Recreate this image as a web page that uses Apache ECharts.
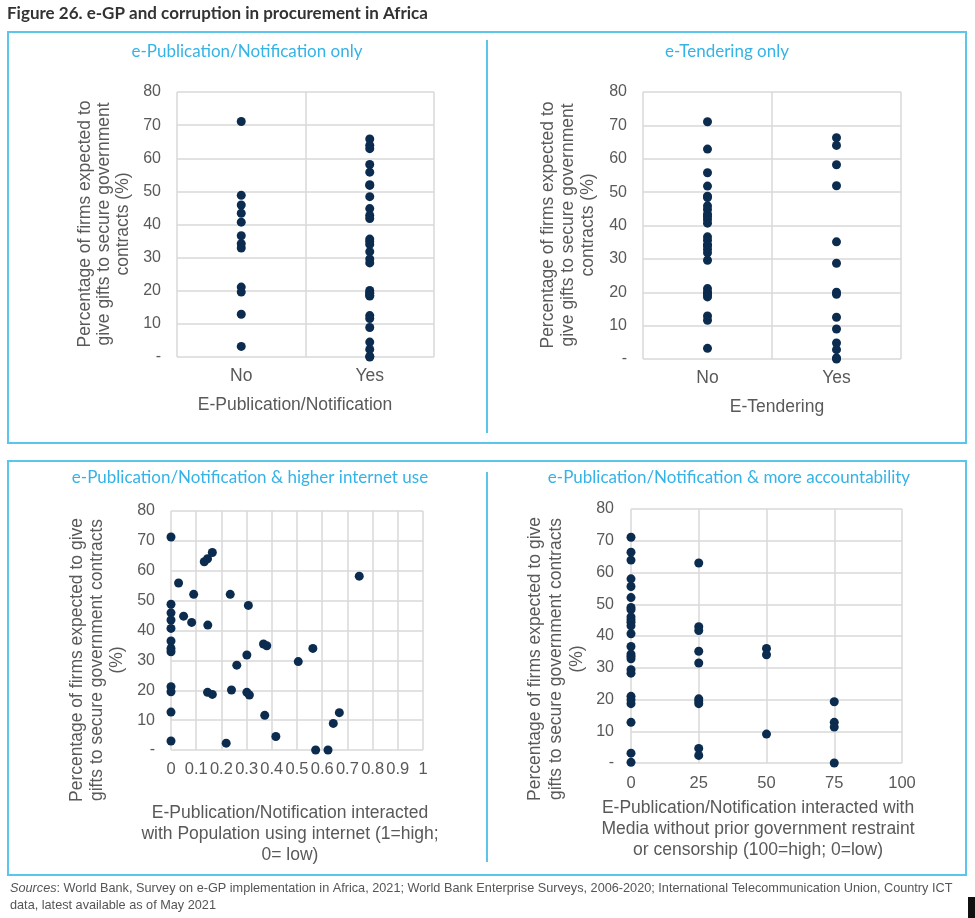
<!DOCTYPE html>
<html>
<head>
<meta charset="utf-8">
<script src="https://cdn.jsdelivr.net/npm/echarts@6/dist/echarts.min.js"></script>
<style>
  html, body { margin: 0; padding: 0; background: #ffffff; }
  #chart { width: 975px; height: 918px; }
</style>
</head>
<body>
<div id="chart"></div>
<script>
// ---------- data ----------
const yesNoCategories = ['No', 'Yes'];
const yTicks = [0, 10, 20, 30, 40, 50, 60, 70, 80];

// Panel 1: e-Publication/Notification (No / Yes)
const pubNo = [71.1, 48.8, 45.9, 43.4, 40.7, 36.6, 34.2, 32.9, 21.1, 19.6, 12.9, 3.2];
const pubYes = [65.8, 63.9, 62.9, 58.1, 55.8, 52.0, 51.8, 48.4, 44.8, 42.7, 41.8, 35.6, 34.9, 34.0, 31.8, 29.6, 28.4, 20.1, 19.3, 19.3, 18.6, 18.4, 12.5, 11.6, 8.9, 4.5, 2.3, 0.2, 0];

// Panel 2: e-Tendering (No / Yes)
const tenderNo = [71.1, 62.9, 55.8, 51.8, 48.8, 48.4, 45.9, 44.8, 43.4, 42.7, 41.8, 40.7, 36.6, 35.6, 34.2, 34.0, 32.9, 31.8, 29.6, 21.1, 20.1, 19.6, 19.3, 18.6, 12.9, 11.6, 3.2];
const tenderYes = [66.3, 64.0, 58.2, 51.9, 35.1, 28.7, 20.0, 19.4, 12.5, 9.0, 4.8, 2.8, 0.3, 0];

// Panel 3: interacted with population using internet
const internetX = [0, 0, 0, 0, 0, 0, 0, 0, 0, 0, 0, 0,
  0.030, 0.090, 0.235, 0.307, 0.132, 0.145, 0.164, 0.747, 0.050, 0.082, 0.146, 0.367, 0.380, 0.563,
  0.301, 0.261, 0.505, 0.145, 0.164, 0.240, 0.301, 0.311, 0.372, 0.668, 0.644, 0.416, 0.219, 0.574, 0.623];
const internetY = [71.3, 48.8, 45.9, 43.5, 40.7, 36.5, 34.0, 32.9, 21.2, 19.5, 12.7, 3.0,
  55.9, 52.1, 52.1, 48.4, 63.0, 64.0, 66.1, 58.2, 44.8, 42.7, 41.8, 35.5, 34.9, 34.0,
  31.8, 28.4, 29.6, 19.3, 18.6, 20.1, 19.3, 18.4, 11.6, 12.5, 8.9, 4.5, 2.3, 0, 0];
const internetTicks = [0, 0.1, 0.2, 0.3, 0.4, 0.5, 0.6, 0.7, 0.8, 0.9, 1];

// Panel 4: interacted with media freedom
const mediaX = [0, 0, 0, 0, 0, 0, 0, 0, 0, 0, 0, 0, 0, 0, 0, 0, 0, 0, 0, 0, 0, 0, 0, 0, 0,
  25, 25, 25, 25, 25, 25, 25, 25, 25, 25,
  50, 50, 50,
  75, 75, 75, 75];
const mediaY = [71.1, 66.4, 63.9, 58.0, 55.6, 52.1, 49.0, 48.3, 46.0, 45.1, 44.3, 43.2, 40.7, 36.7, 34.3, 33.6, 32.8, 29.4, 28.3, 21.0, 19.9, 18.7, 12.8, 3.1, 0.2,
  63.0, 42.9, 41.7, 35.2, 31.5, 20.2, 19.5, 18.7, 4.6, 2.4,
  36.1, 34.1, 9.1,
  19.3, 12.8, 11.3, 0];
const mediaTicks = [0, 25, 50, 75, 100];

// ---------- texts ----------
const figureTitle = 'Figure 26. e-GP and corruption in procurement in Africa';
const panelTitles = [
  'e-Publication/Notification only',
  'e-Tendering only',
  'e-Publication/Notification & higher internet use',
  'e-Publication/Notification & more accountability'
];
const yTitleTop = 'Percentage of firms expected to\ngive gifts to secure government\ncontracts (%)';
const yTitleBottom = 'Percentage of firms expected to give\ngifts to secure government contracts\n(%)';
const xTitles = [
  'E-Publication/Notification',
  'E-Tendering',
  'E-Publication/Notification interacted\nwith Population using internet (1=high;\n0= low)',
  'E-Publication/Notification interacted with\nMedia without prior government restraint\nor censorship (100=high; 0=low)'
];
const sourcesLine1 = '{i|Sources}: World Bank, Survey on e-GP implementation in Africa, 2021; World Bank Enterprise Surveys, 2006-2020; International Telecommunication Union, Country ICT';
const sourcesLine2 = 'data, latest available as of May 2021';

// ---------- styles ----------
const DOT = '#0b2c4f';
const GREY = '#595959';
const GRID = '#d9d9d9';
const BOX = '#5cc6ea';
const TITLE_BLUE = '#35b3e6';
const FONT = '"Liberation Sans", Arial, sans-serif';
const AXIS_TITLE_FONT = '17.5px "Liberation Sans", Arial, sans-serif';
const PANEL_FONT = '17px Lato, "Noto Sans", sans-serif';
const SRC_FONT = '12.7px "Liberation Sans", Arial, sans-serif';

const chart = echarts.init(document.getElementById('chart'), null, { renderer: 'canvas' });

function yAxisCfg(gridIndex, margin) {
  return {
    gridIndex: gridIndex, type: 'value', min: 0, max: 80, interval: 10,
    axisLine: { show: false }, axisTick: { show: false },
    splitLine: { show: true, lineStyle: { color: GRID, width: 1.5 } },
    axisLabel: {
      color: GREY, fontSize: 16, fontFamily: FONT, margin: margin,
      formatter: function (v) { return v === 0 ? '-' : String(v); }
    }
  };
}

function panelTitle(x, y, text) {
  return { type: 'text', x: x, y: y, style: { text: text, fill: TITLE_BLUE,
    font: PANEL_FONT, align: 'center', verticalAlign: 'middle' } };
}
function yTitle(x, y, text, lh) {
  return { type: 'text', x: x, y: y, rotation: Math.PI / 2, style: { text: text, fill: GREY,
    font: AXIS_TITLE_FONT, lineHeight: lh, align: 'center', verticalAlign: 'middle' } };
}
function xTitle(x, y, text, lh) {
  return { type: 'text', x: x, y: y, style: { text: text, fill: GREY,
    font: AXIS_TITLE_FONT, lineHeight: lh, align: 'center', verticalAlign: 'middle' } };
}

const option = {
  animation: false,
  backgroundColor: '#ffffff',
  grid: [
    { left: 177, top: 92, width: 257, height: 265 },
    { left: 643, top: 92, width: 258, height: 267 },
    { left: 171, top: 511, width: 252, height: 239 },
    { left: 631, top: 509, width: 271, height: 254 }
  ],
  xAxis: [
    {
      gridIndex: 0, type: 'category', data: yesNoCategories, boundaryGap: true,
      axisLine: { show: false }, axisTick: { show: false },
      splitLine: { show: true, lineStyle: { color: GRID, width: 1.5 } },
      axisLabel: { color: GREY, fontSize: 17.5, fontFamily: FONT, margin: 10 }
    },
    {
      gridIndex: 1, type: 'category', data: yesNoCategories, boundaryGap: true,
      axisLine: { show: false }, axisTick: { show: false },
      splitLine: { show: true, lineStyle: { color: GRID, width: 1.5 } },
      axisLabel: { color: GREY, fontSize: 17.5, fontFamily: FONT, margin: 10 }
    },
    {
      gridIndex: 2, type: 'value', min: internetTicks[0], max: internetTicks[internetTicks.length - 1], interval: 0.1,
      axisLine: { show: false }, axisTick: { show: false },
      splitLine: { show: true, lineStyle: { color: GRID, width: 1.5 } },
      axisLabel: {
        color: GREY, fontSize: 16.5, fontFamily: FONT, margin: 11, hideOverlap: false,
        formatter: function (v) { return String(Math.round(v * 10) / 10); }
      }
    },
    {
      gridIndex: 3, type: 'value', min: mediaTicks[0], max: mediaTicks[mediaTicks.length - 1], interval: 25,
      axisLine: { show: false }, axisTick: { show: false },
      splitLine: { show: true, lineStyle: { color: GRID, width: 1.5 } },
      axisLabel: { color: GREY, fontSize: 16.5, fontFamily: FONT, margin: 12 }
    }
  ],
  yAxis: [yAxisCfg(0, 16), yAxisCfg(1, 16), yAxisCfg(2, 16), yAxisCfg(3, 17)],
  series: [
    { type: 'scatter', xAxisIndex: 0, yAxisIndex: 0, symbolSize: 9, itemStyle: { color: DOT, opacity: 1 },
      data: pubNo.map(function (v) { return ['No', v]; }) },
    { type: 'scatter', xAxisIndex: 0, yAxisIndex: 0, symbolSize: 9, itemStyle: { color: DOT, opacity: 1 },
      data: pubYes.map(function (v) { return ['Yes', v]; }) },
    { type: 'scatter', xAxisIndex: 1, yAxisIndex: 1, symbolSize: 9, itemStyle: { color: DOT, opacity: 1 },
      data: tenderNo.map(function (v) { return ['No', v]; }) },
    { type: 'scatter', xAxisIndex: 1, yAxisIndex: 1, symbolSize: 9, itemStyle: { color: DOT, opacity: 1 },
      data: tenderYes.map(function (v) { return ['Yes', v]; }) },
    { type: 'scatter', xAxisIndex: 2, yAxisIndex: 2, symbolSize: 9, itemStyle: { color: DOT, opacity: 1 },
      data: internetX.map(function (x, i) { return [x, internetY[i]]; }) },
    { type: 'scatter', xAxisIndex: 3, yAxisIndex: 3, symbolSize: 9, itemStyle: { color: DOT, opacity: 1 },
      data: mediaX.map(function (x, i) { return [x, mediaY[i]]; }) }
  ],
  graphic: [
    // figure title
    { type: 'text', x: 7, y: 14, style: { text: figureTitle, fill: '#333333',
      font: 'bold 17px Lato, "Noto Sans", sans-serif', align: 'left', verticalAlign: 'middle' } },
    // boxes
    { type: 'rect', shape: { x: 8, y: 32, width: 958, height: 411 },
      style: { fill: 'none', stroke: BOX, lineWidth: 2 } },
    { type: 'line', shape: { x1: 487, y1: 40, x2: 487, y2: 433 }, style: { stroke: BOX, lineWidth: 2 } },
    { type: 'rect', shape: { x: 8, y: 461, width: 958, height: 414 },
      style: { fill: 'none', stroke: BOX, lineWidth: 2 } },
    { type: 'line', shape: { x1: 487, y1: 472, x2: 487, y2: 862 }, style: { stroke: BOX, lineWidth: 2 } },
    // panel titles
    panelTitle(247, 52, panelTitles[0]),
    panelTitle(727, 52, panelTitles[1]),
    panelTitle(250, 478, panelTitles[2]),
    panelTitle(729, 478, panelTitles[3]),
    // y-axis titles
    yTitle(104, 224, yTitleTop, 19),
    yTitle(568, 225, yTitleTop, 20),
    yTitle(97, 660, yTitleBottom, 20),
    yTitle(556, 659, yTitleBottom, 21),
    // x-axis titles
    xTitle(295, 405, xTitles[0], 20),
    xTitle(777, 407, xTitles[1], 20),
    xTitle(290, 834, xTitles[2], 21),
    xTitle(758, 829, xTitles[3], 21),
    // sources
    { type: 'text', x: 10, y: 888, style: { text: sourcesLine1, fill: '#555555',
      font: SRC_FONT, align: 'left', verticalAlign: 'middle',
      rich: { i: { fontStyle: 'italic', fontSize: 12.7, fontFamily: FONT, fill: '#555555' } } } },
    { type: 'text', x: 10, y: 905, style: { text: sourcesLine2, fill: '#555555',
      font: SRC_FONT, align: 'left', verticalAlign: 'middle' } },
    // small dark mark at bottom-right edge
    { type: 'rect', shape: { x: 968, y: 897, width: 7, height: 21 }, style: { fill: '#111111' } }
  ]
};

chart.setOption(option);
</script>
</body>
</html>
